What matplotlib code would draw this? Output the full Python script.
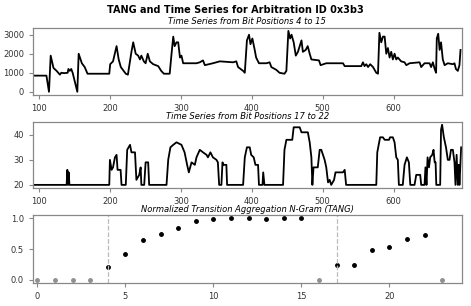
import numpy as np
import matplotlib
matplotlib.use("Agg")
import matplotlib.pyplot as plt

# series 1: bit positions 4 to 15 (vertices)
ts1_x = [91, 110, 113.6, 116, 120, 124.4, 129, 131, 135, 140, 141, 143, 145, 147, 153.6,
         155.5, 160, 164, 168, 198.7, 200, 204, 209, 212, 215, 218, 222, 225, 230, 232.5,
         236, 239.5, 242, 244, 247.5, 250, 253, 256, 260.7, 267.8, 272, 275.8, 284,
         286.6, 289, 291, 293.6, 296, 298.5, 300.6, 303, 321.8, 326.5, 331, 333.6, 345,
         354.7, 373.5, 378, 380.5, 387.6, 390, 393, 396, 398, 400.7, 404, 406, 410, 420.5,
         425, 427.5, 434.6, 439, 446, 448.7, 451.5, 454, 456, 459, 462, 465, 470, 472, 476,
         478.8, 481.6, 484, 494.7, 497, 505, 528.6, 531, 554.4, 556.8, 559, 561.5, 564,
         567, 571, 575.6, 578, 580, 582.6, 585, 587.4, 589.7, 592, 594.4, 596.7, 599,
         601.4, 603.8, 606, 610.7, 615.5, 618, 622.6, 636.7, 639, 643.7, 650.8, 653,
         655.5, 658, 660, 661, 663, 665, 667, 669.5, 672, 676.6, 683.7, 686, 688, 690.7,
         693, 694.5]
ts1_y = [850, 850, 0, 1900, 1250, 1100, 900, 1000, 980, 1000, 1200, 1100, 1200, 1000, 0,
         2000, 1500, 1300, 950, 950, 1450, 1600, 2400, 1700, 1300, 1150, 950, 900, 2100, 2600,
         2000, 1900, 1700, 1900, 1600, 1500, 2000, 1600, 1450, 1350, 1100, 950, 950,
         2000, 2900, 2400, 2600, 2600, 1800, 1900, 1500, 1500, 1550, 1650, 1400, 1500,
         1600, 1550, 1600, 1300, 1100, 1000, 2700, 3000, 2500, 2800, 2200, 1800, 1500, 1500,
         1550, 1300, 1150, 1000, 950, 1100, 3200, 2800, 3000, 2600, 1900, 2100, 2700, 2100, 2200,
         2400, 2000, 1700, 1650, 1400, 1500, 1500, 1350, 1350, 1550, 1350, 1450, 1300,
         1450, 1300, 1000, 950, 3100, 2600, 2900, 2900, 2000, 2300, 1800, 2100, 1700,
         2000, 1700, 1800, 1600, 1550, 1400, 1500, 1550, 1300, 1500, 1500, 1300,
         1550, 1200, 1000, 2800, 3050, 2200, 2600, 1700, 1400, 1500, 1450, 1500, 1200, 1100,
         1400, 2200]

# series 2: bit positions 17 to 22
ts2_x = [91, 138.5, 139.5, 140.5, 141.4, 142.5, 198.7, 199.6, 202, 204, 206.7, 209, 210.4,
         214.7, 216, 222, 224, 228, 230, 235, 237, 241, 243, 244, 248, 250, 253.6, 255,
         279.5, 281.9, 285, 289, 293.6, 300.6, 305, 308.6, 311, 314.8, 319.5, 321.8, 326.5,
         331, 336, 338, 341.5, 345, 350, 352, 353.8, 357, 358.5, 360, 364, 365, 387.6,
         390, 393, 397, 399, 402.6, 405, 408.7, 410, 415, 416, 417.7, 444, 446, 448.7,
         457, 459, 467.5, 470, 479, 481.6, 484, 485.4, 487, 493, 495.7, 498, 502.7, 505,
         507.5, 509.8, 512, 516, 518, 528.6, 531, 533, 575.6, 577, 581, 585, 587.4, 593.6,
         595, 599, 601.4, 603.8, 606, 607.5, 613, 615.5, 618.8, 621.6, 623.6, 629.6, 632,
         637.6, 639, 643.7, 645, 646.5, 648, 650, 651.7, 654.6, 656.4, 658, 659.3, 660.3,
         665.8, 667, 668.5, 671, 674, 676.6, 679, 681, 683.7, 686, 687.4, 689, 690.7,
         692, 693, 695.4]
ts2_y = [20, 20, 26, 20, 25, 20, 20, 30, 26, 27, 31, 32, 26,
         26, 20, 20, 34, 36, 33, 33, 22, 24, 27, 20, 20, 29, 29, 20,
         20, 30, 35, 36, 37, 36, 33, 28, 25, 29, 28, 31, 34,
         33, 32, 31, 33, 31, 30, 29, 20, 20, 29, 28, 28, 20, 20,
         31, 35, 35, 32, 31, 28, 28, 20, 20, 25, 20, 20, 34, 38,
         38, 43, 43, 41, 41, 37, 31, 20, 27, 27, 34, 34, 30, 27,
         21, 22, 20, 22, 25, 25, 26, 20, 20, 33, 39, 39, 38, 38,
         39, 39, 37, 31, 30, 20, 20, 28, 31, 29, 20, 20, 24,
         24, 20, 20, 27, 20, 31, 27, 31, 32, 34, 29, 29, 20,
         20, 42, 44, 39, 35, 30, 30, 34, 34, 29, 20, 32, 20,
         28, 20, 35]

# TANG values per bit position
tang_pos = list(range(24))
tang_val = [0, 0, 0, 0, 0.21, 0.42, 0.65, 0.75, 0.84, 0.96, 0.995, 1.0, 1.0, 0.995,
            1.0, 1.0, 0, 0.25, 0.25, 0.48, 0.54, 0.67, 0.72, 0]
boundaries = [4, 17]

plt.rcParams['font.family'] = 'DejaVu Sans'
fig = plt.figure(figsize=(4.71, 3.06), dpi=100)

ax1 = fig.add_axes([0.070, 0.690, 0.910, 0.219])
ax2 = fig.add_axes([0.070, 0.386, 0.910, 0.216])
ax3 = fig.add_axes([0.070, 0.075, 0.910, 0.222])

ax1.plot(ts1_x, ts1_y, color='black', lw=1.3)
ax1.set_xlim(91, 696)
ax1.set_yticks([0, 1000, 2000, 3000])
ax1.set_xticks([100, 200, 300, 400, 500, 600])
ax1.set_title('Time Series from Bit Positions 4 to 15', fontsize=6, style='italic', pad=3)

ax2.plot(ts2_x, ts2_y, color='black', lw=1.3)
ax2.set_xlim(91, 696)
ax2.set_yticks([20, 30, 40])
ax2.set_xticks([100, 200, 300, 400, 500, 600])
ax2.set_title('Time Series from Bit Positions 17 to 22', fontsize=6, style='italic', pad=2)

pos = np.array(tang_pos)
val = np.array(tang_val)
zero = val == 0
ax3.plot(pos[~zero], val[~zero], 'o', color='black', ms=2.5)
ax3.plot(pos[zero], val[zero], 'o', color='#909090', ms=2.5)
for b in boundaries:
    ax3.axvline(b, color='#bbbbbb', ls='--', lw=0.9)
ax3.set_xlim(-0.25, 24.1)
ax3.set_yticks([0.0, 0.5, 1.0])
ax3.set_xticks([0, 5, 10, 15, 20])
ax3.set_title('Normalized Transition Aggregation N-Gram (TANG)', fontsize=6, style='italic', pad=2)

for ax in (ax1, ax2, ax3):
    for s in ax.spines.values():
        s.set_color('#888888')
        s.set_linewidth(0.9)
    ax.tick_params(labelsize=6, colors='#888888', labelcolor='#333333', length=3, width=0.8)

fig.text(0.5, 0.985, 'TANG and Time Series for Arbitration ID 0x3b3', ha='center', va='top',
         fontsize=7, fontweight='bold')

fig.savefig('out.png', dpi=100)
